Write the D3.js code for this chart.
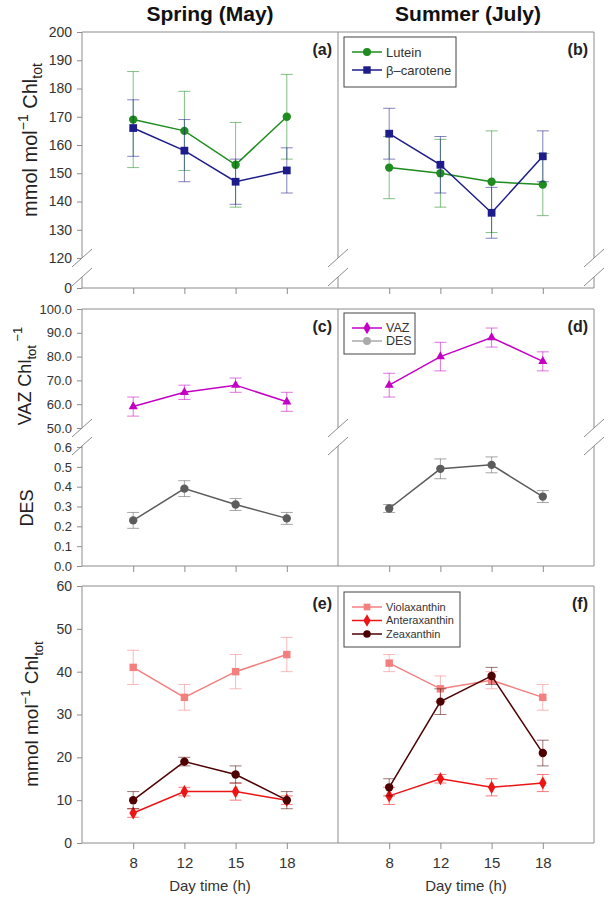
<!DOCTYPE html>
<html>
<head>
<meta charset="utf-8">
<script src="https://cdn.jsdelivr.net/npm/d3@7"></script>
<style>
body { margin: 0; background: #fff; }
svg { font-family: "Liberation Sans", Arial, sans-serif; }
</style>
</head>
<body>
<svg id="chart" width="610" height="900"></svg>
<script>
// Sampling hours (categorical x axis)
var hours = ["8", "12", "15", "18"];

// (a) spring / (b) summer: lutein and beta-carotene
var luteinSpring = [169, 165, 153, 170];
var luteinSpringErr = [17, 14, 15, 15];
var caroteneSpring = [166, 158, 147, 151];
var caroteneSpringErr = [10, 11, 8, 8];
var luteinSummer = [152, 150, 147, 146];
var luteinSummerErr = [11, 12, 18, 11];
var caroteneSummer = [164, 153, 136, 156];
var caroteneSummerErr = [9, 10, 9, 9];

// (c) spring / (d) summer: VAZ pool and de-epoxidation state
var vazSpring = [59, 65, 68, 61];
var vazSpringErr = [4, 3, 3, 4];
var desSpring = [0.23, 0.39, 0.31, 0.24];
var desSpringErr = [0.04, 0.04, 0.03, 0.03];
var vazSummer = [68, 80, 88, 78];
var vazSummerErr = [5, 6, 4, 4];
var desSummer = [0.29, 0.49, 0.51, 0.35];
var desSummerErr = [0.02, 0.05, 0.04, 0.03];

// (e) spring / (f) summer: xanthophyll cycle pigments
var violaSpring = [41, 34, 40, 44];
var violaSpringErr = [4, 3, 4, 4];
var anteraSpring = [7, 12, 12, 10];
var anteraSpringErr = [1, 1, 2, 1];
var zeaSpring = [10, 19, 16, 10];
var zeaSpringErr = [2, 1, 2, 2];
var violaSummer = [42, 36, 38, 34];
var violaSummerErr = [2, 3, 2, 3];
var anteraSummer = [11, 15, 13, 14];
var anteraSummerErr = [2, 1, 2, 2];
var zeaSummer = [13, 33, 39, 21];
var zeaSummerErr = [2, 3, 2, 3];

// Tick labels
var ticksTop = [0, 120, 130, 140, 150, 160, 170, 180, 190, 200];
var ticksVaz = [50, 60, 70, 80, 90, 100];
var ticksDes = [0, 0.1, 0.2, 0.3, 0.4, 0.5, 0.6];
var ticksBottom = [0, 10, 20, 30, 40, 50, 60];

var svg = d3.select("#chart");
var frameColor = "#8c8c8c";
var colX = [82, 338];
var panelW = 256;
var rows = [
    {top: 32, bottom: 288, gap: [258, 277]},
    {top: 309, bottom: 566, gap: [428, 446]},
    {top: 586, bottom: 843, gap: null}
];

// y scales (row 1 is piecewise to draw the axis break)
var yTop = d3.scaleLinear().domain([0, 120, 200]).range([288, 258, 32]);
var yVaz = d3.scaleLinear().domain([50, 100]).range([428, 309]);
var yDes = d3.scaleLinear().domain([0, 0.6]).range([566, 447]);
var yBot = d3.scaleLinear().domain([0, 60]).range([843, 586]);

function xScale(col) {
    return d3.scalePoint().domain(hours).range([colX[col], colX[col] + panelW]).padding(1);
}

function line(x1, y1, x2, y2) {
    svg.append("line")
        .attr("x1", x1).attr("y1", y1).attr("x2", x2).attr("y2", y2)
        .attr("stroke", frameColor).attr("stroke-width", 1);
}

// Vertical frame side, broken with two slashes if needed
function side(x, top, bottom, gap) {
    if (!gap) { line(x, top, x, bottom); return; }
    line(x, top, x, gap[0]);
    line(x, gap[1], x, bottom);
    gap.forEach(function(yb) { line(x - 10, yb + 9, x + 10, yb - 9); });
}

// Frames and bottom ticks
rows.forEach(function(r, ri) {
    [0, 1].forEach(function(col) {
        var x0 = colX[col];
        line(x0, r.top, x0 + panelW, r.top);
        line(x0, r.bottom, x0 + panelW, r.bottom);
        side(x0, r.top, r.bottom, r.gap);
        if (col == 1) side(x0 + panelW, r.top, r.bottom, r.gap);

        var ax = svg.append("g")
            .attr("transform", "translate(0," + r.bottom + ")")
            .call(d3.axisBottom(xScale(col)).tickSize(6).tickPadding(8)
                .tickFormat(ri == 2 ? null : ""));
        ax.select(".domain").remove();
        ax.selectAll(".tick line").attr("stroke", frameColor);
        ax.selectAll("text").attr("font-size", 15).attr("fill", "#333")
            .attr("font-family", "Liberation Sans, Arial, sans-serif");
    });
});

// Left y axes
function yAxis(scale, values, fmt, size) {
    var ax = svg.append("g")
        .attr("transform", "translate(" + colX[0] + ",0)")
        .call(d3.axisLeft(scale).tickValues(values).tickSize(5).tickPadding(5).tickFormat(fmt));
    ax.select(".domain").remove();
    ax.selectAll(".tick line").attr("stroke", frameColor);
    ax.selectAll("text").attr("font-size", size).attr("fill", "#333")
        .attr("font-family", "Liberation Sans, Arial, sans-serif");
}
yAxis(yTop, ticksTop, d3.format("d"), 14);
yAxis(yVaz, ticksVaz, d3.format(".1f"), 13);
yAxis(yDes, ticksDes, d3.format(".1f"), 13);
yAxis(yBot, ticksBottom, d3.format("d"), 14);

// One series: error bars, line, markers
function series(col, y, values, errors, color, symbol, size) {
    var x = xScale(col);
    var pts = values.map(function(v, i) { return {h: hours[i], v: v, e: errors[i]}; });
    var g = svg.append("g");
    g.selectAll(null).data(pts).enter().append("path")
        .attr("d", function(d) {
            var cx = x(d.h), hi = y(d.v + d.e), lo = y(d.v - d.e);
            return "M" + (cx - 6) + "," + hi + "H" + (cx + 6) +
                "M" + cx + "," + hi + "V" + lo +
                "M" + (cx - 6) + "," + lo + "H" + (cx + 6);
        })
        .attr("stroke", color).attr("stroke-opacity", 0.55).attr("fill", "none");
    g.append("path").datum(pts)
        .attr("d", d3.line().x(function(d) { return x(d.h); }).y(function(d) { return y(d.v); }))
        .attr("stroke", color).attr("stroke-width", 1.5).attr("fill", "none");
    g.selectAll(null).data(pts).enter().append("path")
        .attr("d", d3.symbol().type(symbol).size(size))
        .attr("transform", function(d) { return "translate(" + x(d.h) + "," + y(d.v) + ")"; })
        .attr("fill", color);
}

var cLutein = "#1e8c1e", cCarotene = "#1c1c8a", cVaz = "#c400c4", cDes = "#5c5c5c";
var cViola = "#f37f7f", cAntera = "#ec1414", cZea = "#4e0000";

series(0, yTop, luteinSpring, luteinSpringErr, cLutein, d3.symbolCircle, 55);
series(0, yTop, caroteneSpring, caroteneSpringErr, cCarotene, d3.symbolSquare, 60);
series(1, yTop, luteinSummer, luteinSummerErr, cLutein, d3.symbolCircle, 55);
series(1, yTop, caroteneSummer, caroteneSummerErr, cCarotene, d3.symbolSquare, 60);

series(0, yVaz, vazSpring, vazSpringErr, cVaz, d3.symbolTriangle, 36);
series(0, yDes, desSpring, desSpringErr, cDes, d3.symbolCircle, 55);
series(1, yVaz, vazSummer, vazSummerErr, cVaz, d3.symbolTriangle, 36);
series(1, yDes, desSummer, desSummerErr, cDes, d3.symbolCircle, 55);

series(0, yBot, violaSpring, violaSpringErr, cViola, d3.symbolSquare, 55);
series(0, yBot, anteraSpring, anteraSpringErr, cAntera, d3.symbolDiamond, 50);
series(0, yBot, zeaSpring, zeaSpringErr, cZea, d3.symbolCircle, 55);
series(1, yBot, violaSummer, violaSummerErr, cViola, d3.symbolSquare, 55);
series(1, yBot, anteraSummer, anteraSummerErr, cAntera, d3.symbolDiamond, 50);
series(1, yBot, zeaSummer, zeaSummerErr, cZea, d3.symbolCircle, 55);

// Legends
function legend(x, y, w, h, items, rowH, fontSize) {
    svg.append("rect").attr("x", x).attr("y", y).attr("width", w).attr("height", h)
        .attr("fill", "#fff").attr("stroke", "#444").attr("stroke-width", 1);
    items.forEach(function(it, i) {
        var yy = y + 15 + i * rowH;
        svg.append("line").attr("x1", x + 8).attr("x2", x + 38).attr("y1", yy).attr("y2", yy)
            .attr("stroke", it.color).attr("stroke-width", 1.5);
        svg.append("path").attr("d", d3.symbol().type(it.symbol).size(it.size))
            .attr("transform", "translate(" + (x + 23) + "," + yy + ")").attr("fill", it.color);
        svg.append("text").attr("x", x + 42).attr("y", yy).attr("dy", "0.35em")
            .attr("font-size", fontSize).attr("fill", "#333").text(it.name);
    });
}
legend(344, 37, 112, 50, [
    {name: "Lutein", color: cLutein, symbol: d3.symbolCircle, size: 50},
    {name: "\u03b2\u2013carotene", color: cCarotene, symbol: d3.symbolSquare, size: 55}
], 18, 13);
legend(344, 313, 71, 41, [
    {name: "VAZ", color: cVaz, symbol: d3.symbolDiamond, size: 45},
    {name: "DES", color: "#aaaaaa", symbol: d3.symbolCircle, size: 50}
], 13, 12.5);
legend(344, 592, 116, 55, [
    {name: "Violaxanthin", color: cViola, symbol: d3.symbolSquare, size: 45},
    {name: "Anteraxanthin", color: cAntera, symbol: d3.symbolDiamond, size: 45},
    {name: "Zeaxanthin", color: cZea, symbol: d3.symbolCircle, size: 45}
], 13.5, 11);

// Panel letters
var letters = ["(a)", "(b)", "(c)", "(d)", "(e)", "(f)"];
letters.forEach(function(t, i) {
    var r = rows[Math.floor(i / 2)], col = i % 2;
    svg.append("text").attr("x", colX[col] + panelW - 6).attr("y", r.top + 23)
        .attr("text-anchor", "end").attr("font-size", 16).attr("font-weight", "bold")
        .attr("fill", "#222").text(t);
});

// Column titles
[["Spring (May)", 210], ["Summer (July)", 468]].forEach(function(t) {
    svg.append("text").attr("x", t[1]).attr("y", 21).attr("text-anchor", "middle")
        .attr("font-size", 21).attr("font-weight", "bold").attr("fill", "#111").text(t[0]);
});

// X axis titles
[210, 466].forEach(function(cx) {
    svg.append("text").attr("x", cx).attr("y", 891).attr("text-anchor", "middle")
        .attr("font-size", 15).attr("fill", "#333").text("Day time (h)");
});

// Y axis titles with super/subscripts
function yTitle(x, y, size, parts) {
    var t = svg.append("text").attr("transform", "translate(" + x + "," + y + ") rotate(-90)")
        .attr("text-anchor", "middle").attr("font-size", size).attr("fill", "#222");
    parts.forEach(function(p) {
        t.append("tspan").attr("dy", p[1]).attr("font-size", p[2] || size).text(p[0]);
    });
}
yTitle(37, 140, 20, [["mmol mol", 0], ["\u22121", -9, 14], [" Chl", 9], ["tot", 5, 14]]);
yTitle(31, 376, 18, [["VAZ Chl", 0], ["tot", 5, 13], [" \u22121", -14, 13]]);
yTitle(33, 508, 18, [["DES", 0]]);
yTitle(38, 714, 19, [["mmol mol", 0], ["\u22121", -8, 13], [" Chl", 8], ["tot", 5, 13]]);
</script>
</body>
</html>
